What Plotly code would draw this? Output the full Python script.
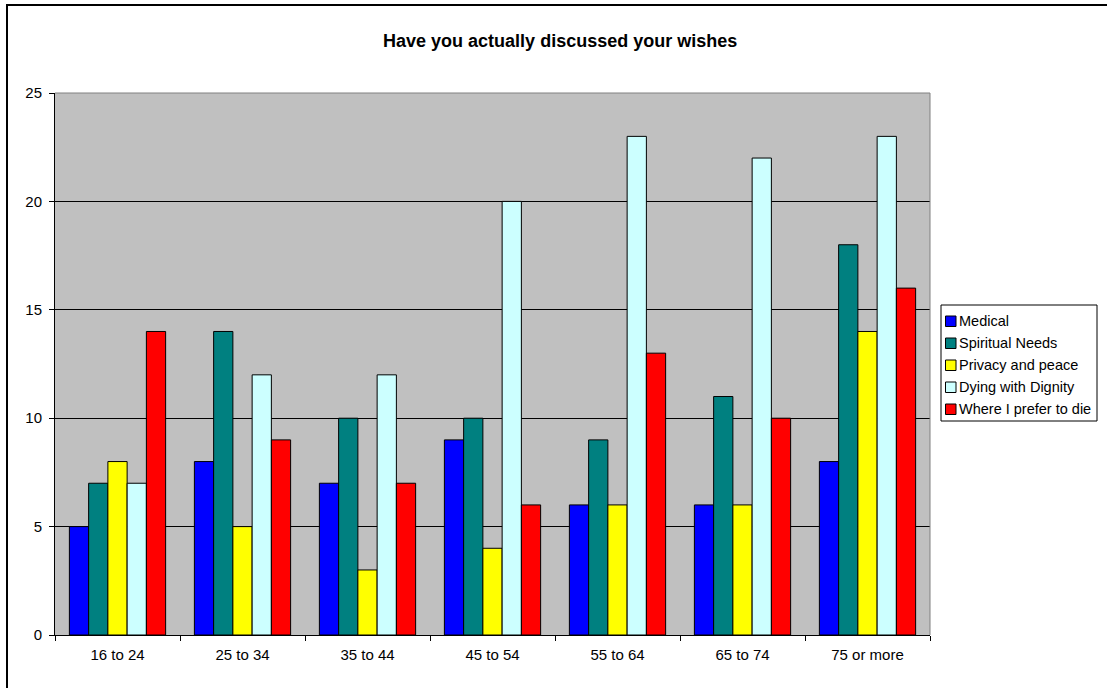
import plotly.graph_objects as go

categories = ["16 to 24", "25 to 34", "35 to 44", "45 to 54", "55 to 64", "65 to 74", "75 or more"]
series_names = ["Medical", "Spiritual Needs", "Privacy and peace", "Dying with Dignity", "Where I prefer to die"]
medical = [5, 8, 7, 9, 6, 6, 8]
spiritual = [7, 14, 10, 10, 9, 11, 18]
privacy = [8, 5, 3, 4, 6, 6, 14]
dignity = [7, 12, 12, 20, 23, 22, 23]
where_die = [14, 9, 7, 6, 13, 10, 16]
colors = ["#0000FF", "#008080", "#FFFF00", "#CCFFFF", "#FF0000"]
y_ticks = [0, 5, 10, 15, 20, 25]

FONT = "Liberation Sans, Arial, sans-serif"

fig = go.Figure()
for name, vals, col in zip(series_names, [medical, spiritual, privacy, dignity, where_die], colors):
    fig.add_trace(go.Bar(x=categories, y=vals, name=name,
                         marker=dict(color=col, line=dict(color="black", width=1))))

L, R, T, B = 55, 177, 93, 53
W, H = 1107, 688
pw, ph = W - L - R, H - T - B

def px(x):
    return (x - L) / pw

def py(y):
    return (H - B - y) / ph

fig.update_layout(
    width=W, height=H,
    margin=dict(l=L, r=R, t=T, b=B, pad=0, autoexpand=False),
    paper_bgcolor="white",
    plot_bgcolor="#C0C0C0",
    barmode="group",
    bargap=0.23,
    bargroupgap=0,
    font=dict(family=FONT, size=15, color="black"),
    title=dict(text="<b>Have you actually discussed your wishes</b>",
               x=0.506, xanchor="center", y=1 - 41 / H, yanchor="middle",
               font=dict(family=FONT, size=18, color="black")),
    showlegend=False,
)
fig.update_xaxes(type="category", tickson="boundaries", ticks="outside", ticklen=5,
                 tickcolor="black", showline=True, linecolor="black", linewidth=1,
                 showgrid=False, tickfont=dict(size=15), ticklabelstandoff=6)
fig.update_yaxes(range=[0, 25], tickvals=y_ticks, ticks="outside", ticklen=5,
                 tickcolor="black", showline=True, linecolor="black", linewidth=1,
                 showgrid=True, gridcolor="black", gridwidth=1, zeroline=False,
                 tickfont=dict(size=15), ticklabelstandoff=4)

# top and right plot edges (gray)
fig.add_shape(type="line", xref="paper", yref="paper", x0=0, x1=1, y0=1, y1=1,
              line=dict(color="#808080", width=1))
fig.add_shape(type="line", xref="paper", yref="paper", x0=1, x1=1, y0=0, y1=1,
              line=dict(color="#808080", width=1))
# outer chart border (top and left visible)
fig.add_shape(type="rect", xref="paper", yref="paper",
              x0=px(7), x1=px(1130), y0=py(720), y1=py(5),
              line=dict(color="black", width=2), fillcolor="rgba(0,0,0,0)", layer="above")

# legend box
fig.add_shape(type="rect", xref="paper", yref="paper",
              x0=px(941), x1=px(1097), y0=py(421), y1=py(305),
              line=dict(color="black", width=1), fillcolor="white")
for i, (name, col) in enumerate(zip(series_names, colors)):
    cy = 321 + i * 22
    fig.add_shape(type="rect", xref="paper", yref="paper",
                  x0=px(945.5), x1=px(956), y0=py(cy + 5.5), y1=py(cy - 5),
                  line=dict(color="black", width=1), fillcolor=col)
    fig.add_annotation(text=name, xref="paper", yref="paper", x=px(957), y=py(cy),
                       xanchor="left", yanchor="middle", showarrow=False,
                       font=dict(family=FONT, size=14.5, color="black"))

fig.write_html("out.html")
